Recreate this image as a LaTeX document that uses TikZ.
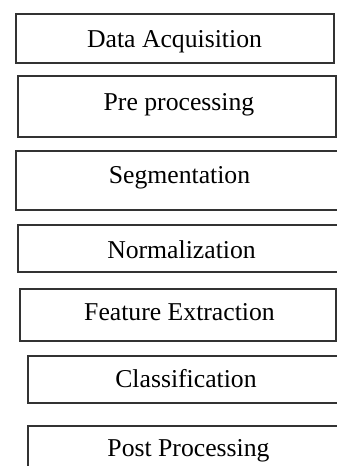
\documentclass[tikz,border=0pt]{standalone}
\usepackage{fontspec}
\setmainfont{Liberation Serif}
\begin{document}
\begin{tikzpicture}[x=1pt,y=-1pt,
  stagebox/.style={draw=black!80, line width=1.3pt, inner sep=0pt, outer sep=0pt, fill=none},
  stagetext/.style={anchor=base, inner sep=0pt, font=\fontsize{25.7}{30}\selectfont, text=black}]
\useasboundingbox (0,0) rectangle (337,466);
\clip (0,0) rectangle (337,466);
\node[stagebox, minimum width=318pt, minimum height=49pt] (b1) at (175,38.5) {};
\node[stagebox, minimum width=318pt, minimum height=61pt] (b2) at (177,106.5) {};
\node[stagebox, minimum width=327pt, minimum height=59pt] (b3) at (179.5,180.5) {};
\node[stagebox, minimum width=327pt, minimum height=47pt] (b4) at (181.5,248.5) {};
\node[stagebox, minimum width=316pt, minimum height=52pt] (b5) at (178,315) {};
\node[stagebox, minimum width=316pt, minimum height=47pt] (b6) at (186,379.5) {};
\node[stagebox, minimum width=321pt, minimum height=64pt] (b7) at (188.5,458) {};
\node[stagetext] (t1) at (174.5,47) {Data Acquisition};
\node[stagetext] (t2) at (179,110) {Pre processing};
\node[stagetext] (t3) at (179.5,183.3) {Segmentation};
\node[stagetext] (t4) at (181.5,258.3) {Normalization};
\node[stagetext] (t5) at (179.5,320.7) {Feature Extraction};
\node[stagetext] (t6) at (186,387.3) {Classification};
\node[stagetext] (t7) at (188.5,456.7) {Post Processing};
\end{tikzpicture}
\end{document}
